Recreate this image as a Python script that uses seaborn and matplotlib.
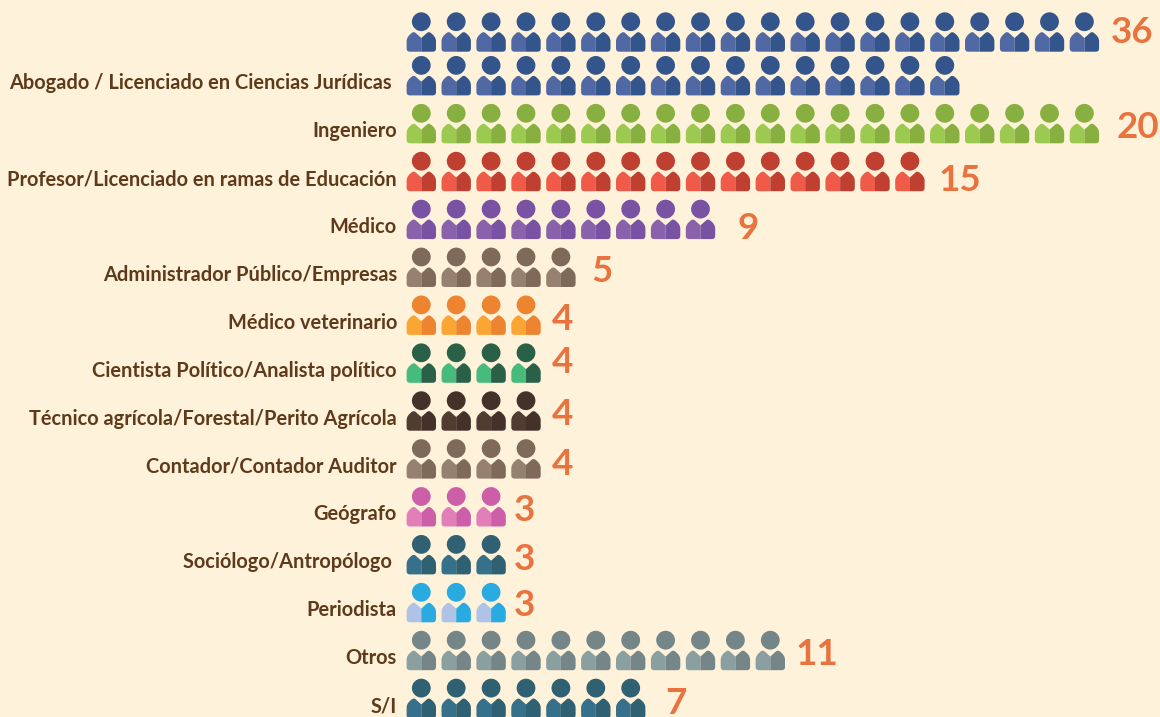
import numpy as np
import pandas as pd
import matplotlib
matplotlib.use("Agg")
import matplotlib.pyplot as plt
from matplotlib.path import Path
import seaborn as sns

# ---------- data ----------
categories = ["", "Abogado / Licenciado en Ciencias Jurídicas ", "Ingeniero",
              "Profesor/Licenciado en ramas de Educación", "Médico",
              "Administrador Público/Empresas", "Médico veterinario",
              "Cientista Político/Analista político",
              "Técnico agrícola/Forestal/Perito Agrícola",
              "Contador/Contador Auditor", "Geógrafo",
              "Sociólogo/Antropólogo ", "Periodista", "Otros", "S/I"]
icon_counts = [20, 16, 20, 15, 9, 5, 4, 4, 4, 4, 3, 3, 3, 11, 7]
value_labels = ["36", "", "20", "15", "9", "5", "4", "4", "4", "4", "3", "3", "3", "11", "7"]

# ---------- style ----------
dark = ["#34558b", "#34558b", "#88b040", "#bf3f31", "#7a52a3", "#7f6a5a", "#ec8430",
        "#2a6048", "#44322a", "#7f6a5a", "#cc5fa8", "#2f6173", "#29abe2", "#748688", "#2f6173"]
light = ["#5069a5", "#5069a5", "#9cc94f", "#f05a48", "#8a62ab", "#968070", "#fba534",
         "#47bb7c", "#503c30", "#968070", "#e27fb8", "#37708a", "#aec3e6", "#8aa0a0", "#37708a"]
BG = "#fff2da"
TEXT = "#5e3a1a"
ORANGE = "#e8733f"
FONT = ["Lato", "DejaVu Sans"]

# ---------- layout (px) ----------
W, H = 1160, 717
DPI = 100
COL_PX, ROW_PX = 34.9, 47.9
X0_PX, Y0_PX = 421.3, 33.5
ROW0_SHIFT = 0.088
value_dx = [12, 0, 18, 14, 22, 16, 11, 11, 11, 11, 8, 8, 8, 11, 20]      # px right of last icon
value_dy = [-5, 0, -2, 3, 3, -2, -1, -6, -2, 0, -2, -1, -3, -2, -1]      # px below icon centre
E = 34.0


def shape(verts):
    """Closed polygon with curved corners; (E, E) pins the common marker scale."""
    v = [(E, E)]
    c = [Path.MOVETO]
    for kind, p in verts:
        v.append(p)
        c.append({"M": Path.MOVETO, "L": Path.LINETO, "Q": Path.CURVE3}[kind])
    v.append(verts[0][1])
    c.append(Path.CLOSEPOLY)
    return Path(np.array(v, float), c)


HEAD_Y = 16.0
R = 9.4
k = 0.5523 * R
head_v = [(0, HEAD_Y + R), (k, HEAD_Y + R), (R, HEAD_Y + k), (R, HEAD_Y), (R, HEAD_Y - k), (k, HEAD_Y - R),
          (0, HEAD_Y - R), (-k, HEAD_Y - R), (-R, HEAD_Y - k), (-R, HEAD_Y), (-R, HEAD_Y + k), (-k, HEAD_Y + R),
          (0, HEAD_Y + R)]
head_c = [Path.MOVETO] + [Path.CURVE4] * 12 + [Path.CLOSEPOLY]
head = Path(np.array([(E, E)] + head_v + [head_v[0]], float), [Path.MOVETO] + head_c)


def half(s):
    return shape([("M", (0, -0.3)),
                  ("L", (s * 5.8, 4.9)),
                  ("Q", (s * 7.4, 6.3)),
                  ("L", (s * 9.2, 5.0)),
                  ("Q", (s * 14.7, 1.2)),
                  ("L", (s * 14.7, -3.5)),
                  ("L", (s * 14.7, -10.6)),
                  ("Q", (s * 14.7, -14.0)),
                  ("L", (s * 11.4, -14.0)),
                  ("L", (0, -14.0))])


left_body, right_body = half(-1), half(1)
marker_s = (1.44 * E) ** 2

# ---------- tidy table ----------
rows = np.arange(len(categories), dtype=float)
row_y = rows.copy()
row_y[0] += ROW0_SHIFT
icons = pd.DataFrame(
    [{"col": c, "row": row_y[i], "cat": str(i)}
     for i, n in enumerate(icon_counts) for c in range(n)]
)
dark_map = {str(i): d for i, d in enumerate(dark)}
light_map = {str(i): d for i, d in enumerate(light)}

# ---------- figure ----------
sns.set_theme(style="white")
plt.rcParams["font.family"] = FONT
fig = plt.figure(figsize=(W / DPI, H / DPI), dpi=DPI, facecolor=BG)
AX_L = 406
ax = fig.add_axes([AX_L / W, 0, 1 - AX_L / W, 1], facecolor=BG)

for mk, pal in [(left_body, light_map), (right_body, dark_map), (head, dark_map)]:
    sns.scatterplot(data=icons, x="col", y="row", hue="cat", palette=pal, marker=mk,
                    s=marker_s, linewidth=0, edgecolor="none", legend=False, ax=ax, zorder=2)

ax.set_xlim((AX_L - X0_PX) / COL_PX, (W - X0_PX) / COL_PX)
ax.set_ylim((H - Y0_PX) / ROW_PX, -Y0_PX / ROW_PX)
ax.set_xticks([])
ax.set_xlabel("")
ax.set_ylabel("")
ax.set_yticks(row_y, categories)
ax.tick_params(axis="y", length=0, pad=6.5, labelcolor=TEXT, labelsize=14.4)
for t in ax.get_yticklabels():
    t.set_fontweight("bold")
sns.despine(ax=ax, left=True, bottom=True, top=True, right=True)

pt = 72 / DPI
for i, lab in enumerate(value_labels):
    if not lab:
        continue
    ax.annotate(lab, xy=(icon_counts[i] - 1, row_y[i]), xycoords="data",
                xytext=((14.7 + value_dx[i]) * pt, -value_dy[i] * pt), textcoords="offset points",
                ha="left", va="center", color=ORANGE, fontsize=26.5, fontweight="bold",
                annotation_clip=False)

fig.savefig("out.png", dpi=DPI, facecolor=BG)
